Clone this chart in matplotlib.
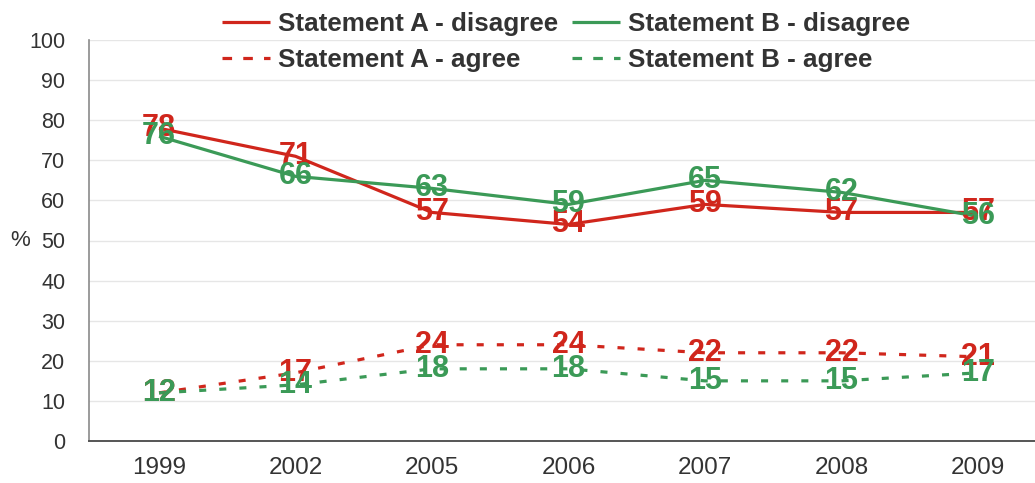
import matplotlib
matplotlib.use("Agg")
import matplotlib.pyplot as plt
from matplotlib.lines import Line2D

# Survey years and response shares (%)
years = ["1999", "2002", "2005", "2006", "2007", "2008", "2009"]
a_disagree = [78, 71, 57, 54, 59, 57, 57]
b_disagree = [76, 66, 63, 59, 65, 62, 56]
a_agree = [12, 17, 24, 24, 22, 22, 21]
b_agree = [12, 14, 18, 18, 15, 15, 17]
y_ticks = [0, 10, 20, 30, 40, 50, 60, 70, 80, 90, 100]

RED = "#d0261c"
GREEN = "#3b9a57"
TEXT = "#333333"

W, H = 1035, 483
fig = plt.figure(figsize=(W / 100, H / 100), dpi=100)
ax = fig.add_axes([89 / W, 42 / H, (W - 89) / W, (441 - 40) / H])

x = list(range(len(years)))
lw = 2.3
plot_dash = (0, (2.2, 4.1))

series = [
    (a_disagree, RED, "-", "Statement A - disagree"),
    (a_agree, RED, plot_dash, "Statement A - agree"),
    (b_disagree, GREEN, "-", "Statement B - disagree"),
    (b_agree, GREEN, plot_dash, "Statement B - agree"),
]

for vals, col, ls, name in series:
    ax.plot(x, vals, color=col, lw=lw, linestyle=ls, zorder=3,
            solid_capstyle="butt", dash_capstyle="butt")

# value labels centred on each point, B series drawn on top of A
z = 4
for vals, col, ls, name in series:
    for xi, v in zip(x, vals):
        ax.text(xi, v, str(v), color=col, ha="center", va="center",
                fontsize=22, fontweight="bold", family="Liberation Sans",
                zorder=z)
    z += 1

ax.set_xlim(-0.513, 6.418)
ax.set_ylim(0, 100)
ax.set_yticks(y_ticks)
ax.set_xticks(x)
ax.set_xticklabels(years)
ax.tick_params(axis="both", length=0, labelcolor=TEXT)
ax.tick_params(axis="y", pad=17, labelsize=15.5)
ax.tick_params(axis="x", pad=11.5, labelsize=17.5)
for lab in ax.get_xticklabels() + ax.get_yticklabels():
    lab.set_family("Liberation Sans")

ax.grid(axis="y", color="#e6e6e6", lw=1.0, zorder=0)
ax.set_axisbelow(True)
for s in ["top", "right"]:
    ax.spines[s].set_visible(False)
ax.spines["left"].set_color("#8a8a8a")
ax.spines["left"].set_linewidth(1.2)
ax.spines["bottom"].set_color("#555555")
ax.spines["bottom"].set_linewidth(1.4)

fig.text(20 / W, 1 - 241 / H, "%", ha="center", va="center",
         fontsize=16, color=TEXT, family="Liberation Sans")

# legend laid out in two rows and two columns above the plot
legend_dash = (0, (3.0, 3.5))
entries = [
    ("Statement A - disagree", RED, "-", 222, 22, 31),
    ("Statement B - disagree", GREEN, "-", 572, 22, 31),
    ("Statement A - agree", RED, legend_dash, 222, 58, 67),
    ("Statement B - agree", GREEN, legend_dash, 572, 58, 67),
]
texts = []
for label, col, ls, x0, yl, yb in entries:
    fig.add_artist(Line2D([x0 / W, (x0 + 48) / W], [1 - yl / H, 1 - yl / H],
                          color=col, lw=lw, linestyle=ls,
                          solid_capstyle="butt", dash_capstyle="butt",
                          transform=fig.transFigure))
    t = fig.text((x0 + 56) / W, 1 - yb / H, label, ha="left", va="baseline",
                 fontsize=18.6, fontweight="bold", color=TEXT,
                 family="Liberation Sans")
    texts.append(t)

# fit the legend text so the first label spans its column
renderer = fig.canvas.get_renderer()
width = texts[0].get_window_extent(renderer).width
size = 18.6 * 280.0 / width
for t in texts:
    t.set_fontsize(size)

fig.savefig("out.png", dpi=100)
